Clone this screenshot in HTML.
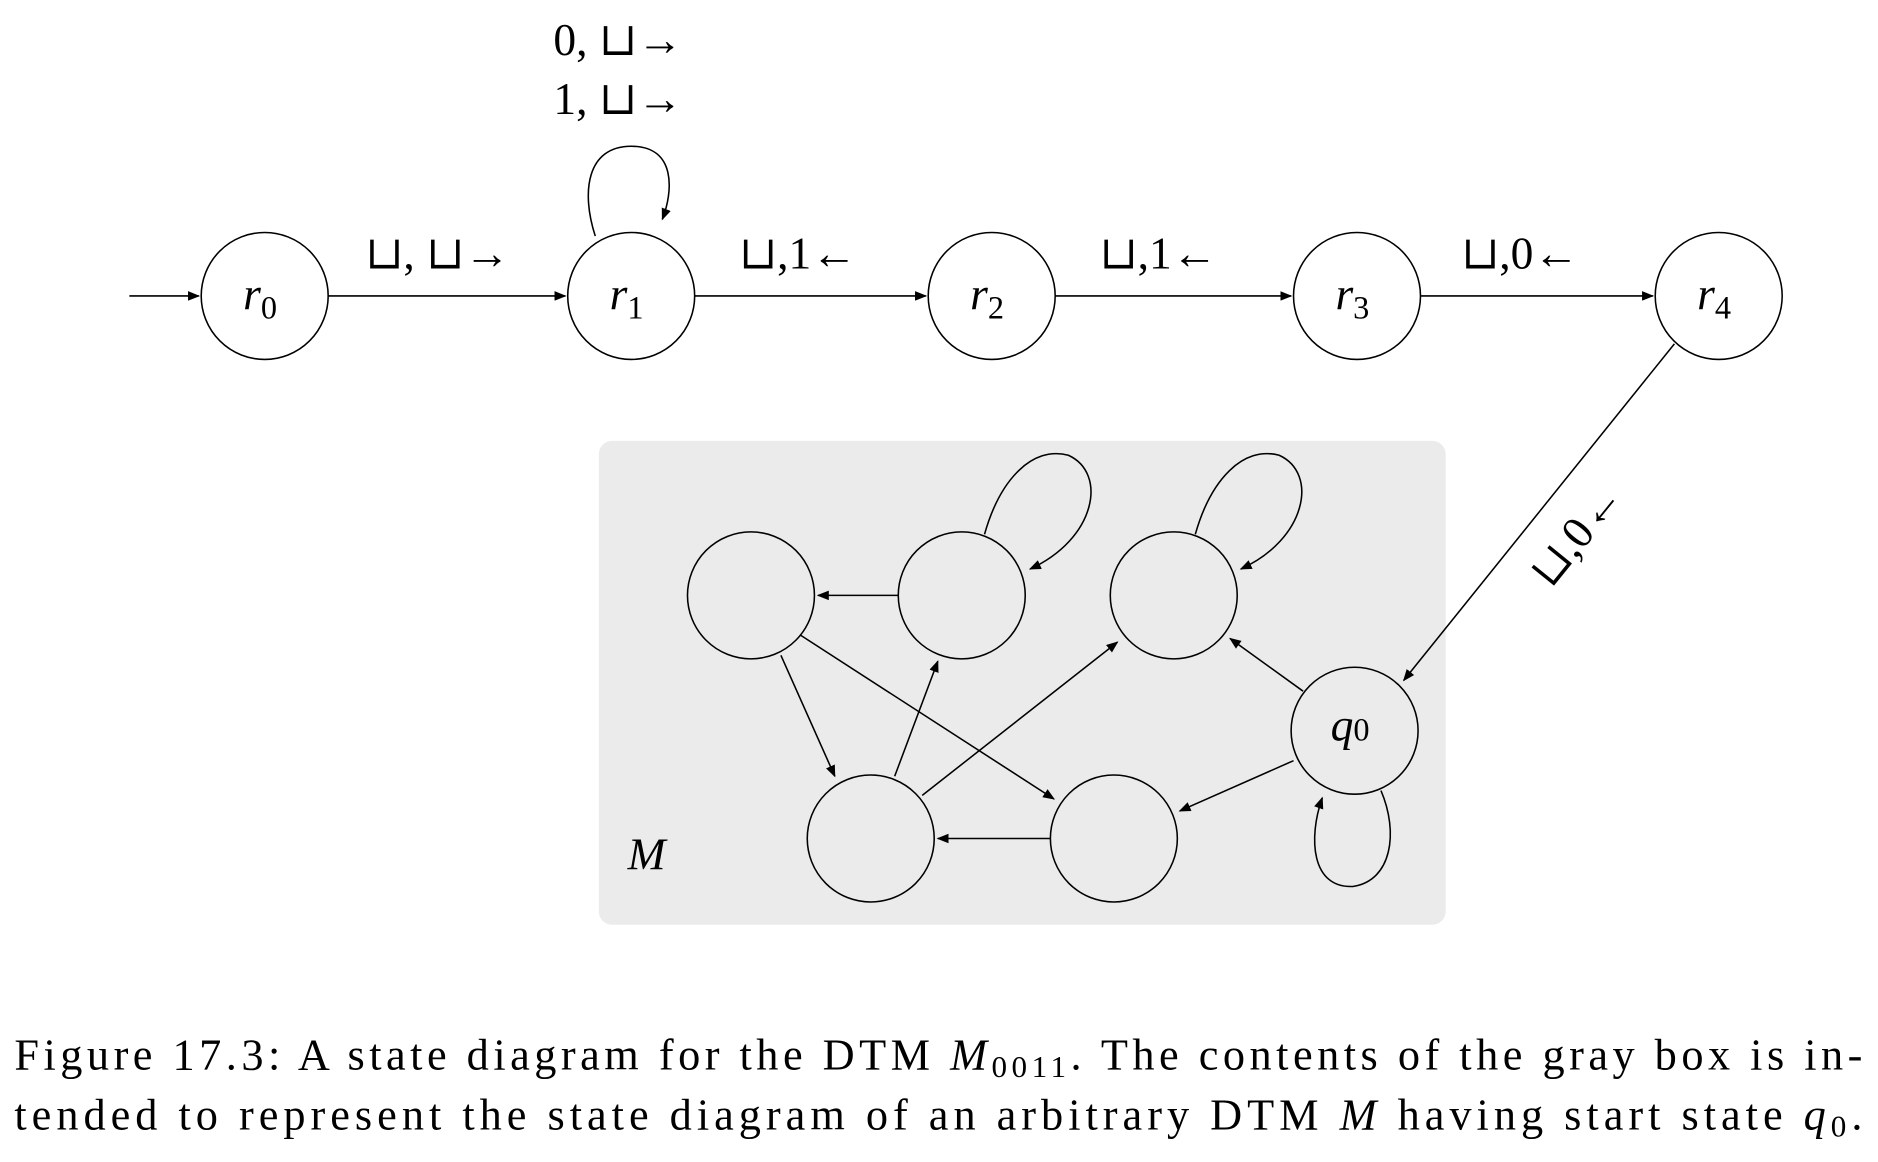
<!DOCTYPE html>
<html><head><meta charset="utf-8"><style>
html,body{margin:0;padding:0;background:#fff}
svg{display:block}
text{font-family:"Liberation Serif","DejaVu Serif",serif;fill:#000}
</style></head><body>
<svg width="1878" height="1162" viewBox="0 0 1568 970" xmlns="http://www.w3.org/2000/svg">
<defs>
<marker id="a" markerWidth="10" markerHeight="8" refX="9" refY="4" orient="auto" markerUnits="userSpaceOnUse">
<path d="M0,0 L10,4 L0,8 z" fill="#000"/></marker>
</defs>
<rect x="500" y="368" width="707" height="404" rx="11" fill="#ebebeb"/>
<g fill="#fff" stroke="#000" stroke-width="1.3">
<circle cx="221" cy="247" r="53"/>
<circle cx="527" cy="247" r="53"/>
<circle cx="828" cy="247" r="53"/>
<circle cx="1133" cy="247" r="53"/>
<circle cx="1435" cy="247" r="53"/>
<circle cx="627" cy="497" r="53" fill="none"/>
<circle cx="803" cy="497" r="53" fill="none"/>
<circle cx="980" cy="497" r="53" fill="none"/>
<circle cx="1131" cy="610" r="53" fill="none"/>
<circle cx="727" cy="700" r="53" fill="none"/>
<circle cx="930" cy="700" r="53" fill="none"/>
</g>
<g stroke="#000" stroke-width="1.3" fill="none" marker-end="url(#a)">
<line x1="108" y1="247" x2="166" y2="247"/>
<line x1="274" y1="247" x2="472" y2="247"/>
<line x1="580" y1="247" x2="773" y2="247"/>
<line x1="881" y1="247" x2="1078" y2="247"/>
<line x1="1186" y1="247" x2="1380" y2="247"/>
<path d="M497,197 C485,160 490,122 527,122 C565,122 562,160 553,183"/>
<line x1="1398" y1="287" x2="1172" y2="568"/>
<line x1="750" y1="497" x2="683" y2="497"/>
<line x1="652" y1="547" x2="697" y2="648"/>
<line x1="668" y1="530" x2="880" y2="667"/>
<line x1="747" y1="648" x2="783" y2="552"/>
<line x1="770" y1="664" x2="933" y2="536"/>
<line x1="877" y1="700" x2="783" y2="700"/>
<line x1="1088" y1="577" x2="1027" y2="533"/>
<line x1="1080" y1="635" x2="985" y2="677"/>
<path d="M822,446 C835,400 862,372 892,380 C925,395 915,450 860,475"/>
<path d="M998,446 C1011,400 1038,372 1068,380 C1101,395 1091,450 1036,475"/>
<path d="M1153,660 C1168,695 1162,735 1130,740 C1095,742 1092,700 1104,666"/>
</g>
<g font-size="38">
<text x="462" y="46">0, ⊔→</text>
<text x="462" y="95">1, ⊔→</text>
<text x="305" y="224">⊔, ⊔→</text>
<text x="617" y="224">⊔,1←</text>
<text x="918" y="224">⊔,1←</text>
<text x="1220" y="224">⊔,0←</text>
<text transform="translate(1295,492) rotate(-51)">⊔,0←</text>
<text x="203" y="258" font-style="italic">r<tspan font-style="normal" font-size="27" dy="8">0</tspan></text>
<text x="509" y="258" font-style="italic">r<tspan font-style="normal" font-size="27" dy="8">1</tspan></text>
<text x="810" y="258" font-style="italic">r<tspan font-style="normal" font-size="27" dy="8">2</tspan></text>
<text x="1115" y="258" font-style="italic">r<tspan font-style="normal" font-size="27" dy="8">3</tspan></text>
<text x="1417" y="258" font-style="italic">r<tspan font-style="normal" font-size="27" dy="8">4</tspan></text>
<text x="1111" y="618" font-style="italic">q<tspan font-style="normal" font-size="27">0</tspan></text>
<text x="524" y="726" font-style="italic">M</text>
</g>
<g font-size="37">
<text x="12" y="893" textLength="1543" lengthAdjust="spacing">Figure 17.3: A state diagram for the DTM <tspan font-style="italic">M</tspan><tspan font-size="26" dy="6">0011</tspan><tspan dy="-6">. The contents of the gray box is in-</tspan></text>
<text x="12" y="943" textLength="1543" lengthAdjust="spacing">tended to represent the state diagram of an arbitrary DTM <tspan font-style="italic">M</tspan> having start state <tspan font-style="italic">q</tspan><tspan font-size="26" dy="6">0</tspan><tspan dy="-6">.</tspan></text>
</g>
</svg>
</body></html>
